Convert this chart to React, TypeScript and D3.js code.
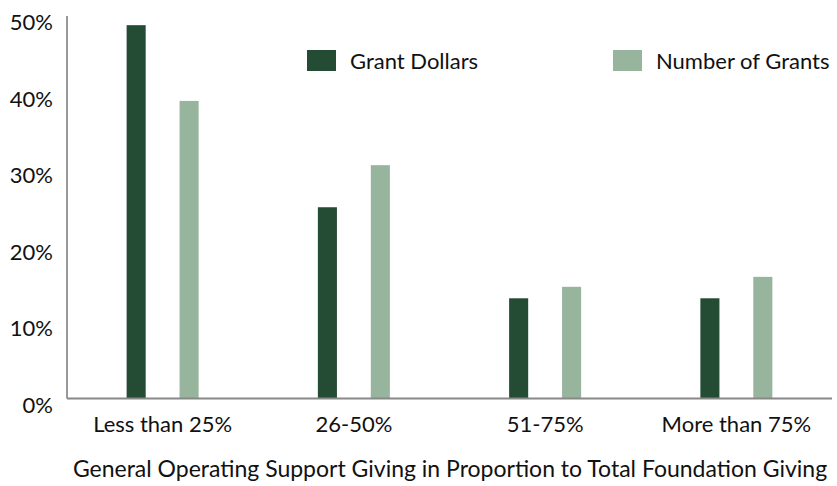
import React from "react";
import * as d3 from "d3";

const categories = ["Less than 25%", "26-50%", "51-75%", "More than 75%"];
const seriesNames = ["Grant Dollars", "Number of Grants"];
const grantDollars = [48.8, 25.0, 13.1, 13.1];
const numberOfGrants = [38.9, 30.5, 14.6, 15.9];
const yTicks = [0, 10, 20, 30, 40, 50];
const xTitle = "General Operating Support Giving in Proportion to Total Foundation Giving";

const colors = ["#244b33", "#97b49c"];
const FONT = "Lato, 'Open Sans', sans-serif";

export default function App() {
  const W = 837, H = 486;
  const left = 67, right = 832, top = 16, bottom = 398.5;
  const x0 = d3.scaleBand<string>().domain(categories).range([left, right]).padding(0);
  const bw = x0.bandwidth();
  const x1 = d3.scaleBand<string>().domain(seriesNames).range([bw / 2 - 36, bw / 2 + 36]).paddingInner(0.64).paddingOuter(0);
  const y = d3.scaleLinear().domain([0, 50]).range([bottom, top]);
  const data = [grantDollars, numberOfGrants];
  const fs = 22;

  return (
    <div style={{ position: "absolute", left: 0, top: 0 }}>
      <svg width={W} height={H} style={{ display: "block", background: "#fff" }} fontFamily={FONT}>
        {categories.map((c, i) => (
          <g key={c} transform={`translate(${x0(c)},0)`}>
            {seriesNames.map((s, j) => (
              <rect key={s} x={x1(s)} width={x1.bandwidth()} y={y(data[j][i])} height={y(0) - y(data[j][i])} fill={colors[j]} />
            ))}
          </g>
        ))}
        <line x1={left} x2={left} y1={top} y2={bottom} stroke="#777" strokeWidth={1.5} />
        <line x1={left} x2={right} y1={bottom} y2={bottom} stroke="#888" strokeWidth={2} />
        {yTicks.map((t) => (
          <text key={t} x={53} y={y(t) + 14} textAnchor="end" fontSize={fs} fill="#111">
            {`${t}%`}
          </text>
        ))}
        {categories.map((c) => (
          <text key={c} x={(x0(c) as number) + bw / 2} y={432} textAnchor="middle" fontSize={fs} fill="#111">
            {c}
          </text>
        ))}
        <text x={450} y={477} textAnchor="middle" fontSize={23} fill="#111">
          {xTitle}
        </text>
        {seriesNames.map((s, j) => {
          const lx = [307, 613][j];
          return (
            <g key={s}>
              <rect x={lx} y={50} width={29} height={21} fill={colors[j]} />
              <text x={lx + 43} y={69} fontSize={fs} fill="#111">{s}</text>
            </g>
          );
        })}
      </svg>
    </div>
  );
}
